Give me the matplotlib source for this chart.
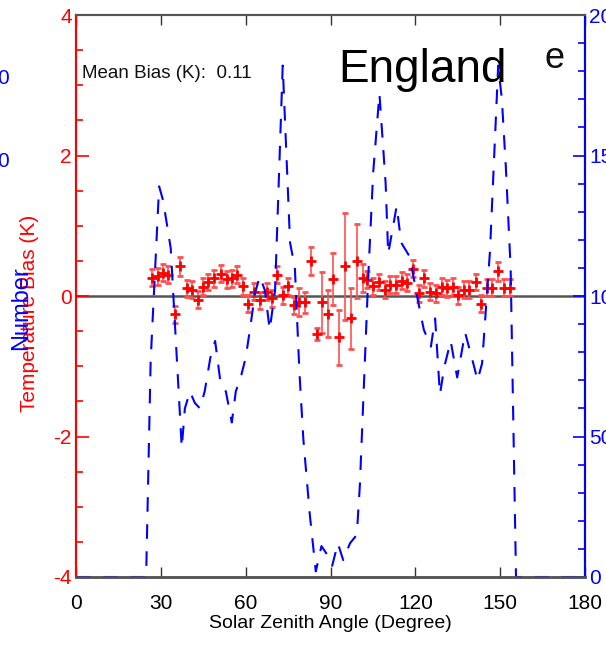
import numpy as np
import matplotlib.pyplot as plt
import matplotlib as mpl

plt.rcParams['font.family'] = ['Liberation Sans Narrow', 'Liberation Sans', 'DejaVu Sans']
plt.rcParams['axes.unicode_minus'] = False

# temperature bias per solar zenith angle bin
sza = [26.8, 29.1, 30.9, 32.7, 35.0, 36.8, 39.4, 40.9, 43.0, 45.0, 46.8, 48.9, 51.2,
       53.3, 55.1, 56.8, 59.2, 60.9, 62.9, 65.1, 67.4, 69.2, 71.0, 73.1, 75.1, 77.2,
       79.0, 81.0, 83.1, 85.1, 87.1, 89.2, 91.0, 93.1, 95.1, 97.1, 99.3, 101.4, 103.0,
       105.1, 107.3, 109.3, 111.0, 113.0, 115.2, 117.2, 119.3, 121.3, 123.2, 125.2,
       127.2, 129.3, 131.3, 133.2, 135.2, 137.2, 139.1, 141.5, 143.2, 145.2, 147.2,
       149.3, 151.3, 153.5]
bias = [0.26, 0.28, 0.33, 0.30, -0.26, 0.42, 0.11, 0.09, -0.05, 0.13, 0.20, 0.25, 0.32,
        0.24, 0.25, 0.30, 0.14, -0.11, 0.06, -0.06, 0.06, -0.03, 0.30, 0.01, 0.14, -0.13,
        -0.08, -0.09, 0.50, -0.54, -0.09, -0.25, 0.24, -0.59, 0.42, -0.32, 0.50, 0.25, 0.23,
        0.14, 0.20, 0.09, 0.16, 0.16, 0.22, 0.19, 0.39, 0.04, 0.25, 0.06,
        0.04, 0.13, 0.11, 0.13, 0.01, 0.09, 0.09, 0.20, -0.11, 0.12, 0.12,
        0.35, 0.12, 0.12]
bias_err = [0.12, 0.12, 0.12, 0.12, 0.12, 0.13, 0.12, 0.12, 0.12, 0.12, 0.12, 0.12, 0.12,
            0.12, 0.12, 0.12, 0.12, 0.12, 0.12, 0.12, 0.12, 0.12, 0.12, 0.12, 0.12, 0.12,
            0.20, 0.15, 0.20, 0.08, 0.43, 0.33, 0.37, 0.39, 0.76, 0.43, 0.53, 0.20, 0.12,
            0.12, 0.12, 0.12, 0.12, 0.12, 0.12, 0.12, 0.12, 0.12, 0.12, 0.12,
            0.12, 0.12, 0.12, 0.12, 0.12, 0.12, 0.12, 0.12, 0.12, 0.12, 0.12,
            0.14, 0.12, 0.12]

# number of samples per angle
cnt_x = [0, 24.8, 26.4, 29.4, 30.8, 33.5, 37.4, 38.5, 40.3, 42.0, 43.8, 45.5, 47.5, 49.2,
         51.0, 53.0, 55.1, 56.5, 58.5, 60.0, 61.5, 63.3, 65.0, 66.8, 68.5, 70.4, 73.1,
         75.7, 77.4, 79.0, 80.4, 82.7, 84.8, 86.8, 88.8, 90.6, 92.6, 94.5, 96.9, 99.3,
         100.4, 102.2, 103.4, 105.1, 107.3, 108.2, 109.5, 110.4, 113.4, 115.0, 118.0,
         121.0, 123.0, 125.5, 127.0, 128.7, 130.3, 132.5, 134.8, 137.6, 140.5, 142.0,
         143.6, 146.4, 149.3, 150.6, 152.0, 153.7, 155.6, 180]
cnt_y = [0, 0, 77, 139, 134, 117, 46, 60, 66, 62, 60, 66, 78, 84,
         70, 66, 55, 66, 72, 78, 88, 101, 107, 102, 88, 102, 182,
         119, 110, 73, 49, 22, 2, 11, 8, 4, 12, 6, 12, 15,
         33, 78, 108, 144, 172, 159, 140, 115, 132, 119, 114,
         98, 88, 82, 92, 65, 75, 84, 71, 87, 76, 70,
         76, 116, 182, 170, 146, 110, 0, 0]

mean_bias = 0.11

fig = plt.figure(figsize=(6.06, 6.49), dpi=100)
ax = fig.add_axes([76/606, 1-577/649, 509/606, 562/649])
ax2 = ax.twinx()

red = '#ff0000'
blue = '#0000ff'

ax.axhline(0, color='#555555', lw=1.8, zorder=1)
ax.errorbar(sza, bias, yerr=bias_err, fmt='+', color=red, ms=7, mew=2,
            ecolor='#ff5050', elinewidth=1.2, capsize=2, capthick=1.2, zorder=3)

ax2.plot(cnt_x, cnt_y, color=blue, lw=1.5, dashes=(7, 6), clip_on=False)

ax.set_xlim(0, 180)
ax.set_ylim(-4, 4)
ax2.set_ylim(0, 200)
ax.set_xticks(np.arange(0, 181, 30))
ax.set_yticks([-4, -2, 0, 2, 4])
ax.yaxis.set_minor_locator(mpl.ticker.MultipleLocator(0.5))
ax2.set_yticks([0, 50, 100, 150, 200])
ax2.yaxis.set_minor_locator(mpl.ticker.MultipleLocator(10))

ax.tick_params(axis='x', which='major', direction='in', length=7, width=1, top=True,
               labelsize=15, pad=12, color='#333333')
ax.tick_params(axis='y', which='major', direction='in', length=9, width=1.2, colors=red,
               labelsize=15, pad=3)
ax.tick_params(axis='y', which='minor', direction='in', length=5, width=1.2, colors=red)
ax2.tick_params(axis='y', which='major', direction='in', length=9, width=1.2, colors=blue,
                labelsize=15, pad=3)
ax2.tick_params(axis='y', which='minor', direction='in', length=5, width=1.2, colors=blue)

for a in (ax, ax2):
    a.spines['left'].set_color(red)
    a.spines['right'].set_color(blue)
    a.spines['top'].set_color('#555555')
    a.spines['bottom'].set_color('#555555')
    a.spines['left'].set_linewidth(1.5)
    a.spines['right'].set_linewidth(1.5)
    a.spines['top'].set_linewidth(1.5)
    a.spines['bottom'].set_linewidth(1.8)

ax.set_xlabel('Solar Zenith Angle (Degree)', fontsize=14, labelpad=2)

fig.text(30/606, 1-313/649, 'Temperature Bias (K)', color=red, fontsize=15,
         rotation=90, ha='center', va='center')
fig.text(21/606, 1-308/649, 'Number', color=blue, fontsize=17,
         rotation=90, ha='center', va='center')
fig.text(-3/606, 1-78/649, '0', color=blue, fontsize=15, ha='left', va='center')
fig.text(-3/606, 1-161/649, '0', color=blue, fontsize=15, ha='left', va='center')

ax.text(82/606, 1-73/649, f'Mean Bias (K):  {mean_bias:.2f}', transform=fig.transFigure,
        fontsize=13.5, ha='left', va='center', color='#111111')
fig.text(338/606, 1-70/649, 'England', fontsize=33, family='Liberation Sans',
         ha='left', va='center')
fig.text(555/606, 1-58/649, 'e', fontsize=26, family='Liberation Sans',
         ha='center', va='center', color='#111111')

fig.savefig('out.png', dpi=100)
